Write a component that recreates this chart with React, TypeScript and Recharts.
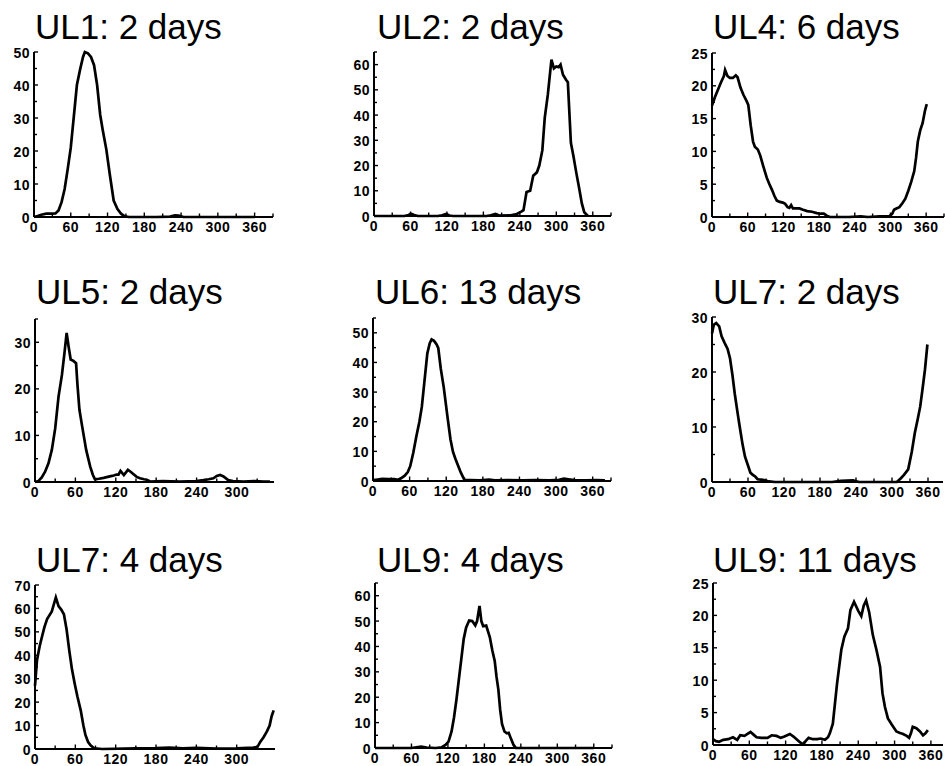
import React from 'react';
import { LineChart, Line, XAxis, YAxis } from 'recharts';

type Pt = [number, number];

// ---- Data: [angle (deg), value] ----
const UL1_2D: Pt[] = [
  [0, 0], [6, 0.3], [12, 0.7], [20, 1], [28, 1], [35, 1.1], [40, 2], [45, 4.5], [50, 8.5], [55, 14.5],
  [60, 21], [65, 30.5], [70, 40], [75, 44.5], [80, 48.5], [83, 50], [88, 49.6], [93, 48.5], [98, 46],
  [103, 40], [108, 31], [112, 26.5], [118, 20.5], [124, 12.5], [130, 5], [136, 2.5], [142, 1], [148, 0.2],
  [155, 0], [200, 0], [222, 0.1], [230, 0.5], [236, 0.4], [244, 0], [300, 0], [360, 0],
];

const UL2_2D: Pt[] = [
  [0, 0], [50, 0], [57, 0.4], [61, 0.9], [66, 0.4], [72, 0], [105, 0], [112, 0.3], [119, 0.8], [124, 0.2],
  [130, 0], [185, 0], [192, 0.3], [200, 0.8], [206, 0.2], [225, 0.3], [235, 0.8], [243, 1.8], [246, 2.3],
  [251, 9.5], [257, 10], [262, 16], [268, 17.3], [272, 20], [277, 26], [281, 39], [286, 48], [292, 62],
  [296, 58.5], [300, 59.3], [304, 59], [307, 60], [311, 56], [316, 54], [319, 53], [324, 29], [328, 24],
  [333, 17], [338, 10.5], [342, 5], [346, 1.5], [352, 0],
];

const UL4_6D: Pt[] = [
  [0, 17], [5, 18.3], [10, 19.4], [15, 20.5], [20, 21.5], [22, 22.4], [26, 21.5], [30, 21.2], [35, 21.2],
  [40, 21.6], [43, 21.3], [48, 19.7], [53, 18.6], [58, 17.7], [61, 17.1], [65, 14], [69, 11.5], [72, 10.7],
  [77, 10.3], [81, 9.4], [86, 7.8], [92, 6], [96, 5.1], [101, 4.1], [105, 3.2], [109, 2.5], [114, 2.3],
  [119, 2.2], [123, 2.0], [127, 1.5], [130, 1.4], [133, 1.8], [136, 1.3], [141, 1.3], [147, 1.3], [153, 1.1],
  [160, 0.9], [168, 0.8], [176, 0.6], [183, 0.5], [188, 0.5], [193, 0.2], [198, 0], [230, 0], [250, 0.1],
  [262, 0], [282, 0.1], [298, 0.1], [303, 0.5], [306, 1.1], [310, 1.3], [315, 1.5], [320, 2.1], [325, 2.8],
  [330, 4], [335, 5.4], [340, 7], [343, 9], [346, 11.5], [350, 13.2], [354, 14.3], [358, 16.2], [361, 17.2],
];

const UL5_2D: Pt[] = [
  [0, 0], [5, 0.2], [10, 1], [15, 2.2], [20, 4], [25, 6.9], [30, 11.5], [35, 18.4], [40, 23], [44, 28],
  [47, 32], [50, 29], [53, 26.3], [57, 26], [61, 25.5], [63, 21], [66, 15.5], [70, 12], [76, 6.9], [82, 3.3],
  [86, 1.5], [89, 0.6], [95, 0.7], [102, 0.9], [111, 1.2], [117, 1.4], [121, 1.6], [124, 1.6], [127, 2.4],
  [132, 1.5], [138, 2.6], [142, 2.2], [146, 1.7], [151, 1.1], [156, 0.8], [162, 0.6], [166, 0.5], [171, 0.1],
  [190, 0.2], [215, 0.1], [240, 0.2], [250, 0.4], [258, 0.6], [265, 0.8], [270, 1.3], [275, 1.5], [280, 1.2],
  [287, 0.4], [294, 0.2], [310, 0.1], [325, 0.2], [340, 0.1], [349, 0.1],
];

const UL6_13D: Pt[] = [
  [0, 0.3], [8, 0.5], [15, 0.7], [25, 0.6], [35, 0.6], [41, 0.4], [46, 0.9], [52, 1.8], [57, 3], [61, 5],
  [66, 9.5], [71, 15], [76, 20], [80, 25], [84, 33], [89, 43], [93, 46.5], [96, 47.8], [100, 47.3],
  [104, 46.2], [107, 44.8], [111, 38], [116, 31.5], [122, 21.7], [127, 14], [131, 9.9], [135, 7.5],
  [139, 5.4], [144, 2.8], [150, 0.3], [160, 0.3], [175, 0.2], [190, 0.5], [200, 0.2], [220, 0.3],
  [245, 0.2], [265, 0.3], [290, 0.2], [305, 0.4], [313, 0.8], [320, 0.6], [330, 0.3], [350, 0.2],
  [365, 0.3], [380, 0.2],
];

const UL7_2D: Pt[] = [
  [0, 27], [3, 28.6], [7, 28.9], [12, 28.3], [16, 26.5], [21, 25.3], [26, 24.2], [30, 22.5], [34, 19.5],
  [38, 16], [43, 12.3], [47, 9.5], [51, 6.8], [55, 4.6], [60, 3], [64, 1.7], [68, 1.3], [72, 1], [76, 0.5],
  [85, 0.4], [95, 0.1], [105, 0], [200, 0], [215, 0.2], [235, 0.3], [245, 0], [308, 0], [314, 0.6],
  [320, 1.3], [327, 2.3], [333, 5.5], [338, 8.9], [343, 11.5], [347, 13.7], [351, 17], [355, 20.5], [359, 25],
];

const UL7_4D: Pt[] = [
  [0, 27], [3, 38], [7, 44], [10, 47.5], [14, 52], [18, 55.5], [25, 58.7], [31, 64.7], [35, 61], [39, 59.5],
  [43, 57.5], [47, 51], [51, 42], [55, 34], [59, 28], [63, 22.5], [68, 16.5], [72, 10], [75, 6], [79, 3],
  [83, 1.5], [88, 0.3], [100, 0], [150, 0.3], [180, 0.4], [200, 0.6], [220, 0.3], [240, 0.5], [270, 0.2],
  [300, 0.3], [325, 0.6], [331, 0.9], [335, 3], [340, 5], [345, 7.5], [349, 10], [352, 14], [355, 16.5],
];

const UL9_4D: Pt[] = [
  [0, 0], [60, 0], [68, 0.3], [76, 0.5], [85, 0.2], [100, 0], [110, 0.3], [116, 1.2], [121, 2.5], [126, 6.5],
  [130, 12], [134, 19], [138, 27], [142, 35], [146, 43], [150, 47.5], [155, 50.2], [160, 50], [165, 48.3],
  [168, 50], [172, 56], [175, 50], [178, 48], [183, 48.2], [189, 43.6], [193, 38.5], [197, 34.3], [200, 28],
  [203, 23], [206, 15], [209, 9.5], [213, 6.5], [217, 5.8], [220, 6], [224, 3.5], [228, 1.2], [232, 0],
  [300, 0], [360, 0],
];

const UL9_11D: Pt[] = [
  [0, 0.9], [5, 0.6], [10, 0.5], [17, 0.8], [25, 0.9], [33, 1.2], [40, 0.8], [45, 1.5], [52, 1.4], [57, 1.7],
  [62, 2.0], [67, 1.6], [72, 1.2], [80, 1.1], [90, 1.1], [97, 1.5], [105, 1.4], [112, 1.1], [118, 1.3],
  [127, 1.7], [133, 1.3], [139, 0.8], [144, 0.4], [149, 0.1], [153, 0.6], [158, 1.1], [165, 0.9], [172, 0.9],
  [178, 1.0], [185, 0.8], [190, 1.2], [193, 1.8], [198, 3.3], [205, 9.5], [212, 14.7], [217, 16.7], [223, 18],
  [227, 20.8], [233, 22.1], [240, 20.7], [245, 19.9], [249, 21.5], [253, 22.3], [258, 20.5], [264, 17],
  [270, 14.7], [276, 12.1], [280, 8], [284, 5.9], [289, 4.1], [295, 3.2], [303, 2.1], [308, 1.9], [314, 1.7],
  [320, 1.4], [324, 1.1], [327, 1.8], [330, 2.8], [336, 2.6], [342, 2.1], [347, 1.5], [351, 1.8], [355, 2.3],
];

// ---- Tick labels ----
const X_LABELS_360 = [0, 60, 120, 180, 240, 300, 360];
const X_LABELS_300 = [0, 60, 120, 180, 240, 300];
const Y_LABELS_50 = [0, 10, 20, 30, 40, 50];
const Y_LABELS_60 = [0, 10, 20, 30, 40, 50, 60];
const Y_LABELS_25 = [0, 5, 10, 15, 20, 25];
const Y_LABELS_30 = [0, 10, 20, 30];
const Y_LABELS_70 = [0, 10, 20, 30, 40, 50, 60, 70];

const TITLES = [
  'UL1: 2 days', 'UL2: 2 days', 'UL4: 6 days',
  'UL5: 2 days', 'UL6: 13 days', 'UL7: 2 days',
  'UL7: 4 days', 'UL9: 4 days', 'UL9: 11 days',
];

const FONT = '"Liberation Sans", Arial, Helvetica, sans-serif';

// layout per panel (plot area in page pixels)
const PANELS = [
  { title: TITLES[0], pts: UL1_2D, xMax: 390, xLabels: X_LABELS_360, yMax: 50, yLabels: Y_LABELS_50, left: 34, top: 52, w: 239, h: 165, tx: 35, ty: 39 },
  { title: TITLES[1], pts: UL2_2D, xMax: 390, xLabels: X_LABELS_360, yMax: 65, yLabels: Y_LABELS_60, left: 374, top: 52, w: 237, h: 164, tx: 377, ty: 39 },
  { title: TITLES[2], pts: UL4_6D, xMax: 390, xLabels: X_LABELS_360, yMax: 25, yLabels: Y_LABELS_25, left: 712, top: 53, w: 232, h: 164, tx: 713, ty: 39 },
  { title: TITLES[3], pts: UL5_2D, xMax: 355, xLabels: X_LABELS_300, yMax: 35, yLabels: Y_LABELS_30, left: 35, top: 319, w: 239, h: 163, tx: 36, ty: 304 },
  { title: TITLES[4], pts: UL6_13D, xMax: 390, xLabels: X_LABELS_360, yMax: 55, yLabels: Y_LABELS_50, left: 373, top: 318, w: 238, h: 163, tx: 375, ty: 304 },
  { title: TITLES[5], pts: UL7_2D, xMax: 385, xLabels: X_LABELS_360, yMax: 30, yLabels: Y_LABELS_30, left: 712, top: 317, w: 231, h: 165, tx: 713, ty: 304 },
  { title: TITLES[6], pts: UL7_4D, xMax: 357, xLabels: X_LABELS_300, yMax: 70, yLabels: Y_LABELS_70, left: 35, top: 585, w: 240, h: 164, tx: 36, ty: 572 },
  { title: TITLES[7], pts: UL9_4D, xMax: 390, xLabels: X_LABELS_360, yMax: 65, yLabels: Y_LABELS_60, left: 375, top: 583, w: 237, h: 165, tx: 377, ty: 572 },
  { title: TITLES[8], pts: UL9_11D, xMax: 380, xLabels: X_LABELS_360, yMax: 25, yLabels: Y_LABELS_25, left: 713, top: 583, w: 230, h: 162, tx: 713, ty: 572 },
];

// major + minor ticks (minor = half way between labelled ticks)
function withMinor(labels: number[], max: number): number[] {
  const step = labels[1] - labels[0];
  const out: number[] = [];
  for (let i = 0; i < labels.length; i++) {
    out.push(labels[i]);
    const mid = labels[i] + step / 2;
    if (mid <= max + 1e-9) out.push(mid);
  }
  let next = labels[labels.length - 1] + step;
  while (next <= max + 1e-9) {
    out.push(next);
    if (next + step / 2 <= max + 1e-9) out.push(next + step / 2);
    next += step;
  }
  return out;
}

const makeXTick = (labels: number[]) => (props: any) => {
  const { x, y, payload } = props;
  const v = payload.value;
  const major = labels.includes(v);
  return (
    <g>
      <line x1={x} x2={x} y1={y} y2={y - (major ? 4.5 : 3.5)} stroke="#000" strokeWidth={1.4} />
      {major && (
        <text x={x} y={y + 14.5} textAnchor="middle" fontFamily={FONT} fontSize={14} fontWeight="bold" fill="#000" letterSpacing={0.5}>
          {v}
        </text>
      )}
    </g>
  );
};

const makeYTick = (labels: number[]) => (props: any) => {
  const { x, y, payload } = props;
  const v = payload.value;
  const major = labels.includes(v);
  return (
    <g>
      <line x1={x} x2={x + (major ? 4 : 3)} y1={y} y2={y} stroke="#000" strokeWidth={1.4} />
      {major && (
        <text x={x - 4} y={y + 5.5} textAnchor="end" fontFamily={FONT} fontSize={14} fontWeight="bold" fill="#000" letterSpacing={0.5}>
          {v}
        </text>
      )}
    </g>
  );
};

const YW = 40;
const MT = 10;
const MR = 10;
const XH = 30;

function Panel({ p }: { p: (typeof PANELS)[number] }) {
  const data = p.pts.map(([angle, value]) => ({ angle, value }));
  const width = YW + p.w + MR;
  const height = MT + p.h + XH;
  return (
    <div style={{ position: 'absolute', left: p.left - YW, top: p.top - MT, width, height }}>
      <LineChart width={width} height={height} data={data} margin={{ top: MT, right: MR, bottom: 0, left: 0 }}>
        <XAxis
          type="number"
          dataKey="angle"
          domain={[0, p.xMax]}
          ticks={withMinor(p.xLabels, p.xMax)}
          interval={0}
          height={XH}
          tickSize={0}
          tickMargin={0}
          tickLine={false}
          axisLine={{ stroke: '#000', strokeWidth: 2 }}
          tick={makeXTick(p.xLabels)}
        />
        <YAxis
          type="number"
          domain={[0, p.yMax]}
          ticks={withMinor(p.yLabels, p.yMax)}
          interval={0}
          width={YW}
          tickSize={0}
          tickMargin={0}
          tickLine={false}
          axisLine={{ stroke: '#000', strokeWidth: 2 }}
          tick={makeYTick(p.yLabels)}
        />
        <Line
          type="linear"
          dataKey="value"
          stroke="#000"
          strokeWidth={2.7}
          dot={false}
          activeDot={false}
          isAnimationActive={false}
        />
      </LineChart>
    </div>
  );
}

export default function App() {
  return (
    <div style={{ position: 'absolute', left: 0, top: 0, width: 945, height: 766, overflow: 'hidden', background: '#fff' }}>
      <svg width={945} height={766} style={{ position: 'absolute', left: 0, top: 0 }}>
        {PANELS.map((p) => (
          <text key={p.title + p.tx + p.ty} x={p.tx} y={p.ty} fontFamily={FONT} fontSize={35} fill="#000">
            {p.title}
          </text>
        ))}
      </svg>
      {PANELS.map((p, i) => (
        <Panel key={i} p={p} />
      ))}
    </div>
  );
}
